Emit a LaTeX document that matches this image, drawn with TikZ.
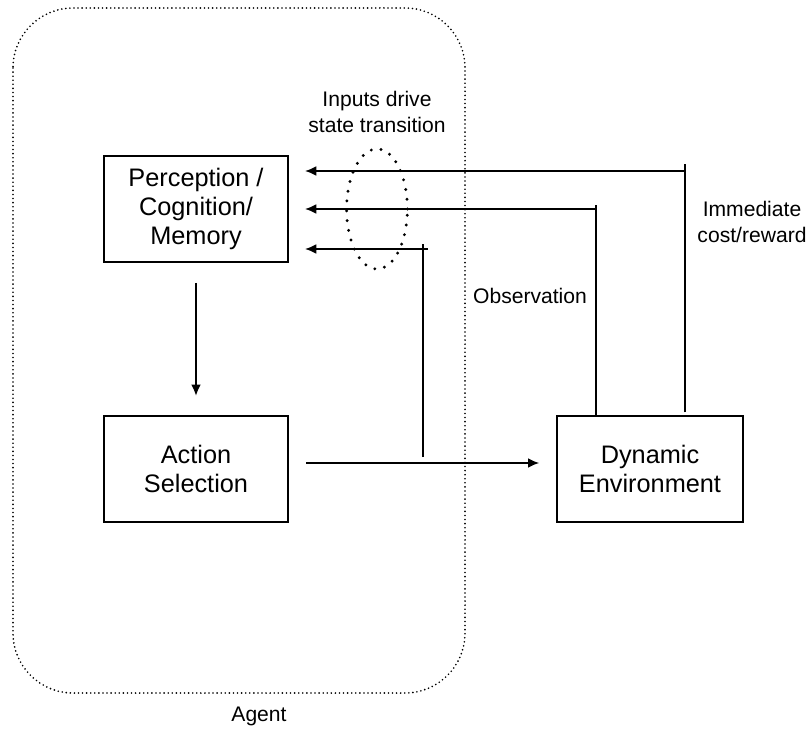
\documentclass[tikz,border=0pt]{standalone}
\usepackage{fontspec}
\setmainfont{Liberation Sans}
\usetikzlibrary{calc,arrows.meta}

\begin{document}
\begin{tikzpicture}[x=0.025cm, y=-0.025cm,
  block/.style={draw, line width=1.3pt, minimum width=4.6cm, minimum height=2.65cm, align=center, font=\fontsize{18}{20.5}\selectfont},
  lbl/.style={align=center, font=\fontsize{15}{18}\selectfont},
  arr/.style={-{Latex[length=8pt,width=7pt]}, line width=1.3pt},
  wire/.style={line width=1.3pt}]

\useasboundingbox (0,0) rectangle (809,729);

% agent boundary
\draw[line width=1.3pt, dash pattern=on 0pt off 2.9pt, line cap=round, rounded corners=1.5cm] (13,8) rectangle (465,693);
\node[lbl] (agent) at (259,716) {Agent};

\node[block] (perc) at (196,209) {Perception /\\Cognition/\\Memory};

\node[block] (act) at (196,469) {Action\\Selection};

\node[block, minimum width=4.63cm, minimum height=2.63cm] (env) at (650,469) {Dynamic\\Environment};

% inputs into perception
\coordinate (in1) at (305,171);
\coordinate (in2) at (305,209);
\coordinate (in3) at (305,249);
\coordinate (rew) at (685,171);
\coordinate (obs) at (596,209);
\coordinate (tap) at (423,463);

\draw[arr, shorten <=0.5cm, shorten >=0.48cm] (perc.south) -- (act.north);
\draw[arr, shorten <=0.43cm, shorten >=0.43cm] ([yshift=0.15cm]act.east) -- ([yshift=0.15cm]env.west);

\draw[arr] ([yshift=0.075cm]env.north -| rew) -- (rew) -- (in1);
\draw[wire] (rew) -- ++(0,-7);
\draw[arr] (env.north -| obs) -- (obs) -- (in2);
\draw[wire] (obs) -- ++(0,-4);
\draw[wire] ([yshift=0.15cm]tap) -- (423,244);
\draw[arr] (428,249) -- (in3);

\draw[line width=2.3pt, dash pattern=on 0pt off 7pt, line cap=round] (377,209) ellipse [x radius=0.76cm, y radius=1.5cm];
\node[lbl] (inputs) at (377,112) {Inputs drive\\state transition};

\node[lbl] (obslbl) at (530,296) {Observation};
\node[lbl] (rewlbl) at (752,222) {Immediate\\cost/reward};

\end{tikzpicture}
\end{document}
